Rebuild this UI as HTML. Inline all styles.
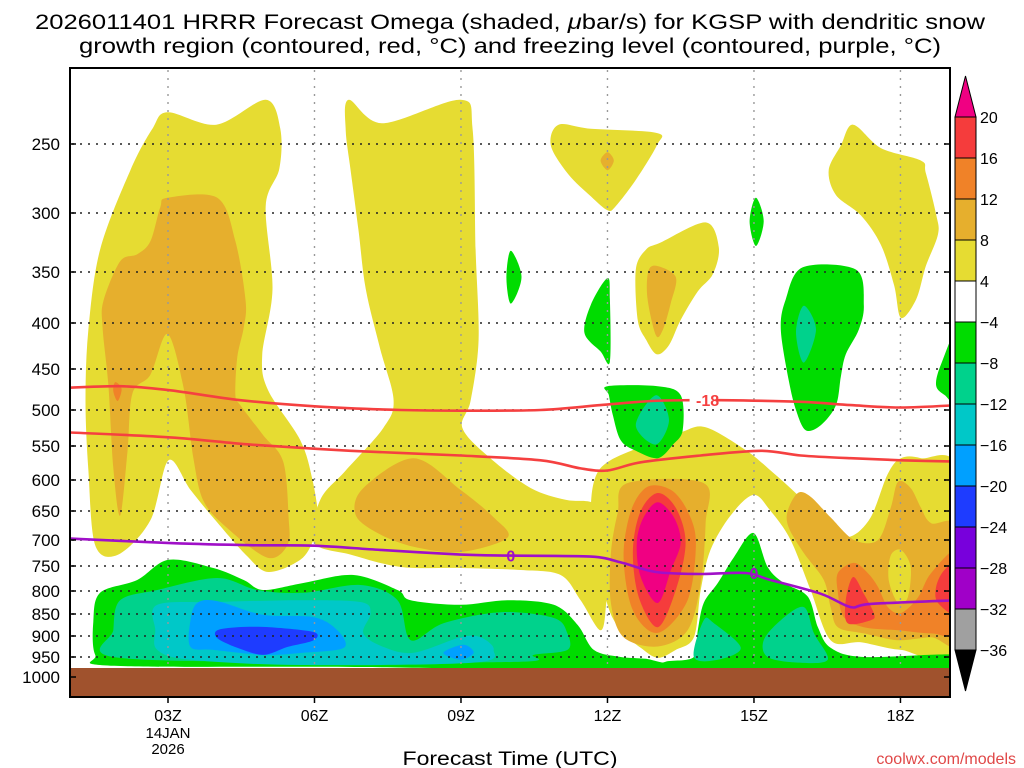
<!DOCTYPE html>
<html><head><meta charset="utf-8"><title>HRRR Omega KGSP</title>
<style>
html,body{margin:0;padding:0;background:#fff;}
svg{display:block;font-family:"Liberation Sans",sans-serif;}
</style></head>
<body>
<svg id="chart" width="1024" height="768" viewBox="0 0 1024 768">
<defs><clipPath id="plotclip"><rect x="70" y="68" width="880" height="600"/></clipPath></defs>
<text x="510" y="29" text-anchor="middle" font-size="21" textLength="950" lengthAdjust="spacingAndGlyphs" fill="#000">2026011401 HRRR Forecast Omega (shaded, <tspan font-style="italic">μ</tspan>bar/s) for KGSP with dendritic snow</text>
<text x="510" y="53" text-anchor="middle" font-size="21" textLength="862" lengthAdjust="spacingAndGlyphs" fill="#000">growth region (contoured, red, °C) and freezing level (contoured, purple, °C)</text>
<g id="shading" clip-path="url(#plotclip)"></g>
<g id="grid"></g>
<g id="lines" clip-path="url(#plotclip)"></g>
<rect x="70" y="668" width="880" height="29" fill="#a0522d"/>
<g id="axes"></g>
<g id="cbar"></g>
<text x="510" y="765" text-anchor="middle" font-size="19" textLength="215" lengthAdjust="spacingAndGlyphs" fill="#000">Forecast Time (UTC)</text>
<text x="1016" y="764" text-anchor="end" font-size="16" fill="#e04848">coolwx.com/models</text>
</svg>
<script>
// ---- axis definition ----
const pTicks = [250,300,350,400,450,500,550,600,650,700,750,800,850,900,950,1000];
const hourTicks = [3,6,9,12,15,18];
const hourLabels = ["03Z","06Z","09Z","12Z","15Z","18Z"];
const dateLabel = ["14JAN","2026"];
const cbarLevels = [20,16,12,8,4,-4,-8,-12,-16,-20,-24,-28,-32,-36];
const cbarColors = ["#f53c3c","#f08228","#e6af2d","#e6dc32","#ffffff","#00dc00","#00d28c","#00c8c8","#00a0ff","#1e3cff","#7800dc","#a000c8","#a0a0a0"];

// ---- omega contour regions (hour, hPa) ----
const yellowLeft = [[2.68,239],[2.99,227],[3.99,236],[5.0,218],[5.3,239],[5.28,268],[5.0,295],[5.14,367],[4.93,435],[5.05,476],[5.71,542],[5.96,600],[6.08,666],[5.98,700],[5.71,738],[5.05,762],[4.59,728],[3.97,666],[3.46,616],[3.01,571],[2.64,666],[1.98,728],[1.51,710],[1.37,586],[1.31,488],[1.37,407],[1.61,331],[2.23,269]];
const yellowMid = [[6.7,218],[7.39,235],[8.99,218],[9.24,240],[9.3,331],[9.36,418],[9.2,488],[9.03,525],[9.6,568],[10.43,613],[11.14,632],[11.76,640],[12.07,700],[11.98,820],[11.86,887],[11.45,820],[11.04,768],[10.22,758],[8.99,754],[7.77,752],[6.74,728],[5.98,704],[6.12,632],[6.64,586],[7.41,525],[7.62,488],[7.35,429],[7.05,367],[6.9,314],[6.74,269],[6.64,240]];
const yellowLate = [[11.82,586],[12.68,551],[13.5,531],[14.01,524],[14.83,556],[15.34,586],[15.96,629],[16.57,683],[16.98,694],[17.39,661],[17.74,591],[18.01,568],[18.42,568],[19.2,590],[19.2,933],[18.01,933],[17.19,915],[16.57,910],[16.16,798],[15.75,700],[15.34,650],[14.99,624],[14.52,658],[14.11,719],[13.91,798],[13.77,903],[13.4,933],[13.03,952],[12.68,928],[12.27,887],[12.0,830],[11.86,738],[11.66,666]];
const yellowTop12 = [[10.84,251],[11.0,236],[11.66,239],[13.01,242],[13.01,251],[12.58,276],[12.17,295],[12.0,298],[11.66,288],[11.2,272]];
const yellow13 = [[12.79,331],[13.09,325],[14.01,308],[14.28,329],[14.16,352],[13.85,369],[13.5,397],[13.26,424],[13.01,434],[12.79,418],[12.62,397],[12.58,348]];
const yellow17 = [[17.03,236],[17.6,253],[18.42,262],[18.52,271],[18.73,301],[18.77,318],[18.52,345],[18.32,377],[18.01,395],[17.87,363],[17.6,327],[17.19,302],[16.68,287],[16.53,269],[16.78,251]];
const orangeLeft = [[2.99,289],[4.01,289],[4.38,324],[4.59,378],[4.55,405],[4.42,437],[4.38,482],[4.48,494],[4.95,535],[5.36,573],[5.47,661],[5.45,709],[5.04,734],[4.22,680],[3.73,634],[3.52,568],[3.32,473],[2.99,412],[2.64,457],[2.27,480],[2.17,558],[2.02,658],[1.88,582],[1.78,470],[1.66,405],[1.68,378],[2.02,341],[2.37,335],[2.64,324],[2.84,296]];
const orangeMid = [[8.03,568],[7.0,613],[6.84,656],[7.29,688],[8.03,713],[8.99,723],[9.95,696],[9.67,661],[8.99,616]];
const orange12 = [[11.86,262],[12.0,256],[12.13,262],[12.0,269]];
const orange13 = [[12.84,349],[13.03,345],[13.4,355],[13.3,380],[13.13,408],[12.99,413],[12.82,376]];
const orangeBlob13 = [[12.41,605],[13.97,605],[14.01,671],[13.91,785],[13.64,887],[13.03,925],[12.33,903],[12.07,826],[12.07,725],[12.21,653]];
const orangeRight = [[15.9,621],[16.16,627],[16.57,661],[17.05,700],[17.54,700],[17.8,645],[17.95,603],[18.21,613],[18.42,645],[18.63,671],[19.2,683],[19.2,910],[18.63,903],[17.95,910],[17.25,894],[16.72,880],[16.57,835],[16.43,778],[16.02,725],[15.71,678],[15.69,650]];
const yellowHole18 = [[18.01,719],[18.21,752],[18.15,814],[17.95,826],[17.76,778],[17.8,730]];
const dkOrange13 = [[12.82,611],[13.3,616],[13.64,650],[13.81,705],[13.64,820],[13.03,893],[12.52,842],[12.33,733],[12.48,650]];
const dkOrangeRight = [[16.72,764],[17.05,744],[17.33,764],[17.54,792],[17.74,835],[18.01,848],[18.36,814],[18.63,764],[19.2,723],[19.2,887],[18.63,894],[17.95,887],[17.25,880],[16.84,857],[16.72,804]];
const dkOrangeSpot = [[1.92,466],[2.05,474],[1.97,489],[1.88,477]];
const red13 = [[13.03,621],[13.4,645],[13.6,705],[13.4,798],[13.03,880],[12.64,813],[12.52,719],[12.68,650]];
const red17 = [[17.03,772],[17.25,806],[17.46,850],[17.39,864],[16.92,871],[16.88,820]];
const red19 = [[18.9,758],[19.2,745],[19.2,850],[18.77,826],[18.73,792]];
const magenta13 = [[13.03,636],[13.36,661],[13.5,705],[13.3,758],[13.03,826],[12.68,772],[12.6,705],[12.74,661]];
const greenLow = [[1.47,868],[1.61,804],[2.37,778],[3.01,738],[3.93,754],[4.55,778],[4.95,798],[5.77,784],[6.8,768],[7.7,798],[7.97,820],[8.99,830],[9.95,820],[10.9,830],[11.39,875],[11.72,933],[12.27,950],[12.89,957],[13.03,985],[7.0,975],[1.9,972],[1.51,945]];
const green15 = [[13.09,985],[13.19,962],[13.77,950],[13.85,887],[13.97,826],[14.26,784],[14.59,733],[14.99,688],[15.28,752],[15.61,784],[16.1,812],[16.31,880],[16.57,928],[17.25,950],[19.2,945],[19.2,985]];
const green13 = [[12.0,471],[13.03,471],[13.5,482],[13.54,528],[13.34,548],[13.03,568],[12.58,557],[12.27,542],[12.11,507],[12.03,482]];
const green10 = [[10.02,332],[10.24,355],[10.02,381],[9.93,355]];
const green12 = [[12.0,356],[12.05,377],[12.05,442],[11.86,431],[11.53,411],[11.66,382]];
const green15top = [[15.04,289],[15.2,307],[15.04,328],[14.91,307]];
const green16 = [[16.0,346],[17.09,348],[17.25,382],[17.15,407],[16.88,434],[16.78,459],[16.68,494],[16.37,521],[16.06,528],[15.86,500],[15.71,463],[15.55,407],[15.65,377]];
const green19 = [[19.2,405],[18.83,445],[18.73,470],[18.91,482],[19.2,490]];
const tealLow = [[1.88,887],[2.02,820],[2.78,798],[4.01,774],[4.83,798],[5.77,804],[6.94,788],[7.7,820],[7.97,910],[8.64,871],[9.81,846],[10.9,859],[11.18,894],[11.18,933],[10.49,945],[10.22,962],[5.71,962],[1.88,950]];
const teal13 = [[12.99,482],[13.26,514],[12.99,548],[12.58,521]];
const teal16 = [[16.02,383],[16.27,407],[16.02,443],[15.86,410]];
const teal15 = [[15.55,864],[16.02,835],[16.23,894],[16.51,957],[15.9,964],[15.28,950],[15.2,910]];
const teal14 = [[13.97,864],[14.18,871],[14.73,928],[14.26,957],[13.77,950]];
const cyanLow = [[2.78,830],[4.01,824],[5.71,820],[6.94,824],[7.15,848],[7.0,894],[7.41,926],[8.03,940],[8.99,903],[9.4,903],[9.67,933],[9.26,964],[5.71,970],[3.46,957],[2.78,933],[2.74,887]];
const ltBlueLow = [[3.46,864],[3.6,826],[4.01,822],[4.95,852],[5.98,857],[6.47,887],[6.6,928],[5.77,940],[4.95,945],[3.93,933],[3.46,926]];
const ltBlue09 = [[8.64,940],[9.05,921],[9.26,940],[8.99,957]];
const blueLow = [[4.01,887],[4.42,880],[5.09,880],[5.98,891],[5.98,910],[5.45,926],[4.95,945],[4.42,928],[4.01,905]];

// ---- isotherms (hour, hPa) ----
const isoMinus18 = [[0.9,473],[2.02,471],[3.05,476],[4.48,488],[6.12,496],[7.77,500],[8.99,501],[10.63,500],[11.86,494],[12.89,489],[13.7,488],[14.32,488],[15.96,490],[16.98,494],[18.01,497],[19.2,494]];
const isoMinus12 = [[0.9,531],[3.05,538],[4.69,548],[6.74,557],[8.99,564],[10.63,571],[11.45,583],[12.0,586],[12.68,574],[13.91,564],[15.14,557],[15.96,564],[16.98,568],[18.01,571],[19.2,573]];
const isoZero = [[0.9,697],[3.05,706],[4.69,710],[6.0,711],[7.35,719],[8.99,728],[10.02,730],[11.66,732],[12.27,743],[12.99,762],[13.91,766],[14.83,764],[15.34,778],[16.37,806],[16.98,835],[17.39,828],[19.2,820]];

const NS = "http://www.w3.org/2000/svg";
const yTickPix = [144,213,272,323,369,410,446,480,511,540,566,591,614,636,657,677];
function xS(h){ return 168 + (h-3)*48.83; }
function yS(p){
  if (p <= pTicks[0]) return yTickPix[0] - (pTicks[0]-p)*(yTickPix[1]-yTickPix[0])/(pTicks[1]-pTicks[0]);
  for (let i=0;i<pTicks.length-1;i++){
    if (p <= pTicks[i+1]) return yTickPix[i] + (p-pTicks[i])/(pTicks[i+1]-pTicks[i])*(yTickPix[i+1]-yTickPix[i]);
  }
  const n=pTicks.length-1;
  return yTickPix[n] + (p-pTicks[n])*(yTickPix[n]-yTickPix[n-1])/(pTicks[n]-pTicks[n-1]);
}
function mk(tag, attrs, parent){
  const e=document.createElementNS(NS,tag);
  for (const k in attrs) e.setAttribute(k, attrs[k]);
  parent.appendChild(e); return e;
}
function smoothPath(pts, closed){
  const P = pts.map(d=>[xS(d[0]), yS(d[1])]);
  const n=P.length; let s="M"+P[0][0].toFixed(1)+","+P[0][1].toFixed(1);
  const segs = closed ? n : n-1;
  const t=0.16;
  for (let i=0;i<segs;i++){
    const p0=P[(i-1+n)%n], p1=P[i], p2=P[(i+1)%n], p3=P[(i+2)%n];
    const a0 = (!closed && i===0)?p1:p0, a3=(!closed && i===n-2)?p2:p3;
    const c1=[p1[0]+(p2[0]-a0[0])*t, p1[1]+(p2[1]-a0[1])*t];
    const c2=[p2[0]-(a3[0]-p1[0])*t, p2[1]-(a3[1]-p1[1])*t];
    s+="C"+c1[0].toFixed(1)+","+c1[1].toFixed(1)+" "+c2[0].toFixed(1)+","+c2[1].toFixed(1)+" "+p2[0].toFixed(1)+","+p2[1].toFixed(1);
  }
  return s+(closed?"Z":"");
}
const shading=document.getElementById("shading");
const layers = [
  ["#e6dc32",[yellowLeft,yellowMid,yellowLate,yellowTop12,yellow13,yellow17],"omega-4-8"],
  ["#e6af2d",[orangeLeft,orangeMid,orange12,orange13,orangeBlob13,orangeRight],"omega-8-12"],
  ["#e6dc32",[yellowHole18],"omega-4-8"],
  ["#f08228",[dkOrange13,dkOrangeRight,dkOrangeSpot],"omega-12-16"],
  ["#f53c3c",[red13,red17,red19],"omega-16-20"],
  ["#f00082",[magenta13],"omega-above-20"],
  ["#00dc00",[greenLow,green15,green13,green10,green12,green15top,green16,green19],"omega-minus4"],
  ["#00d28c",[tealLow,teal13,teal16,teal15,teal14],"omega-minus8"],
  ["#00c8c8",[cyanLow],"omega-minus12"],
  ["#00a0ff",[ltBlueLow,ltBlue09],"omega-minus16"],
  ["#1e3cff",[blueLow],"omega-minus20"]
];
layers.forEach(L=>{
  L[1].forEach(shape=>{
    const el=mk("path",{d:smoothPath(shape,true),fill:L[0],stroke:"none"},shading);
    
    
  });
});
// grid
const grid=document.getElementById("grid");
pTicks.forEach((p,i)=>{
  const y=yS(p);
  const ln=mk("line",{x1:72,x2:950,y1:y,y2:y,stroke:"#222","stroke-width":1.6,"stroke-dasharray":"2 6"},grid);
  
  
});
hourTicks.forEach(h=>{
  const x=xS(h);
  const ln=mk("line",{x1:x,x2:x,y1:70,y2:697,stroke:"#999","stroke-width":1.4,"stroke-dasharray":"2 6"},grid);
  
  
});
// contour lines
const lines=document.getElementById("lines");
[[isoMinus18,"#f54040","isotherm-minus18"],[isoMinus12,"#f54040","isotherm-minus12"],[isoZero,"#a010c8","freezing-level"]].forEach(c=>{
  const el=mk("path",{d:smoothPath(c[0],false),fill:"none",stroke:c[1],"stroke-width":2.6},lines);
  
  
});
function label(txt,h,p,color,name){
  const x=xS(h), y=yS(p);
  const t=mk("text",{x:x,y:y+6,"text-anchor":"middle","font-size":16,"font-weight":"bold",fill:color},lines);
  t.textContent=txt;
  
  
}
const lblM18=[[14.05,488]];
const lblZero=[[10.02,730],[15.0,764]];
lblM18.forEach(d=>{
  mk("rect",{x:xS(d[0])-18,y:yS(d[1])-4,width:26,height:8,fill:"#fff"},lines);
  label("-18",d[0],d[1],"#f54040","isotherm-label-minus18");
});
lblZero.forEach(d=>{
  label("0",d[0],d[1],"#a010c8","freezing-level-label");
});
// axes
const axes=document.getElementById("axes");
const frame=mk("rect",{x:70,y:68,width:880,height:629,fill:"none",stroke:"#000","stroke-width":2},axes);


pTicks.forEach(p=>{
  const y=yS(p);
  mk("line",{x1:70,x2:76,y1:y,y2:y,stroke:"#000","stroke-width":1.5},axes);
  mk("line",{x1:944,x2:950,y1:y,y2:y,stroke:"#000","stroke-width":1.5},axes);
  const t=mk("text",{x:60,y:y+6,"text-anchor":"end","font-size":17,fill:"#000"},axes);
  t.textContent=String(p);
  
  
});
hourTicks.forEach((h,i)=>{
  const x=xS(h);
  mk("line",{x1:x,x2:x,y1:697,y2:703,stroke:"#000","stroke-width":1.5},axes);
  const t=mk("text",{x:x,y:721,"text-anchor":"middle","font-size":16,fill:"#000"},axes);
  t.textContent=hourLabels[i];
  
  
});
dateLabel.forEach((s,i)=>{
  const t=mk("text",{x:xS(3),y:738+i*16,"text-anchor":"middle","font-size":15,fill:"#000"},axes);
  t.textContent=s;
  
  
});
// colorbar
const cbar=document.getElementById("cbar");
const cbTop=117, cbStep=41, cbX=955, cbW=21;
const tri1=mk("polygon",{points:`${cbX},${cbTop} ${cbX+cbW},${cbTop} ${cbX+cbW/2},${cbTop-41}`,fill:"#f00082",stroke:"#000","stroke-width":1},cbar);


cbarColors.forEach((c,i)=>{
  const r=mk("rect",{x:cbX,y:cbTop+i*cbStep,width:cbW,height:cbStep,fill:c,stroke:"#000","stroke-width":1},cbar);
  
  
});
const nB=cbarColors.length;
const tri2=mk("polygon",{points:`${cbX},${cbTop+nB*cbStep} ${cbX+cbW},${cbTop+nB*cbStep} ${cbX+cbW/2},${cbTop+nB*cbStep+41}`,fill:"#000",stroke:"#000","stroke-width":1},cbar);


cbarLevels.forEach((v,i)=>{
  const t=mk("text",{x:980,y:cbTop+i*cbStep+6,"font-size":16,fill:"#000"},cbar);
  t.textContent=(v<0?"\u2212"+(-v):String(v));
  
  
});
</script>
</body></html>
